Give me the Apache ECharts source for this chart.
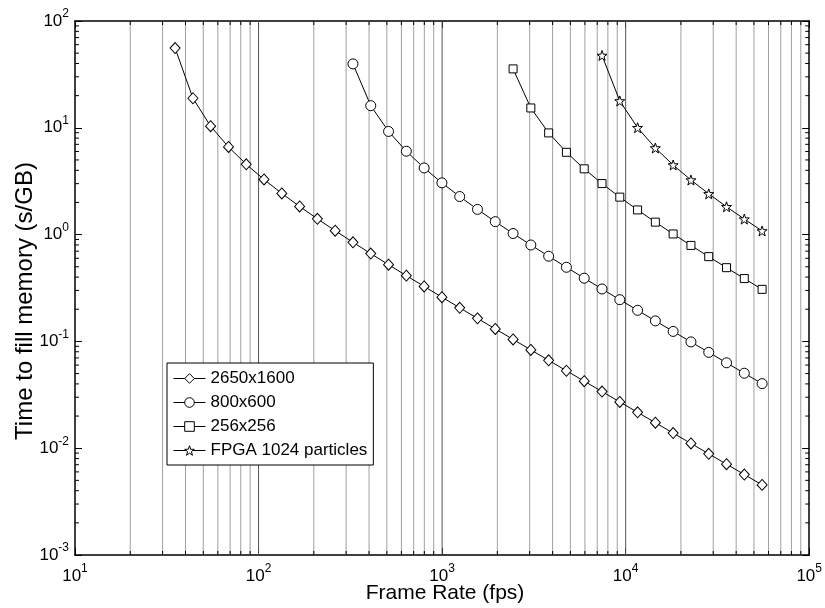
<!DOCTYPE html>
<html>
<head>
<meta charset="utf-8">
<script src="https://cdn.jsdelivr.net/npm/echarts@6/dist/echarts.min.js"></script>
<style>html,body{margin:0;padding:0;background:#fff}#c{width:825px;height:608px}</style>
</head>
<body>
<div id="c"></div>
<script>
// ---- data ----
const frameRate = [35.1, 43.9, 54.8, 68.6, 85.7, 107.1, 133.9, 167.4, 209.2, 261.5, 326.9, 408.6, 510.8, 638.5, 798.1, 997.6, 1247, 1559, 1948, 2436, 3044, 3806, 4757, 5946, 7433, 9291, 11614, 14517, 18146, 22683, 28353, 35442, 44302, 55378];
const time2650x1600 = [55.8, 18.91, 10.35, 6.614, 4.556, 3.281, 2.430, 1.835, 1.405, 1.087, 0.8471, 0.6640, 0.5227, 0.4129, 0.3270, 0.2596, 0.2063, 0.1643, 0.1309, 0.1044, 0.08328, 0.06649, 0.05311, 0.04243, 0.03391, 0.02711, 0.02167, 0.01733, 0.01386, 0.01108, 0.008862, 0.007088, 0.005670, 0.004535];
const time800x600 = [39.67, 16.11, 9.246, 6.033, 4.206, 3.051, 2.272, 1.722, 1.322, 1.024, 0.7994, 0.6272, 0.4942, 0.3907, 0.3096, 0.2458, 0.1955, 0.1556, 0.1240, 0.09892, 0.07895, 0.06304, 0.05035, 0.04023];
const time256x256 = [35.61, 15.34, 8.959, 5.895, 4.130, 3.005, 2.242, 1.702, 1.308, 1.014, 0.7920, 0.6217, 0.4900, 0.3875, 0.3071];
const timeFPGA = [47.53, 17.84, 10.02, 6.471, 4.486, 3.243, 2.408, 1.822, 1.397, 1.082];
const seriesNames = ['2650x1600', '800x600', '256x256', 'FPGA 1024 particles'];
const xDecades = [10, 100, 1000, 10000, 100000];
const yDecades = [0.001, 0.01, 0.1, 1, 10, 100];
const xAxisTitle = 'Frame Rate (fps)';
const yAxisTitle = 'Time to fill memory (s/GB)';

// ---- build ----
function pairs(ys) {
  const off = frameRate.length - ys.length;
  return ys.map((y, i) => [frameRate[off + i], y]);
}
const FONT = '"Liberation Sans", Arial, sans-serif';
const starPath = 'path://M0,-10 L2.35,-3.24 L9.51,-3.09 L3.8,1.24 L5.88,8.09 L0,4 L-5.88,8.09 L-3.8,1.24 L-9.51,-3.09 L-2.35,-3.24 Z';
const symbols = [['diamond', [10, 11]], ['circle', 10], ['rect', 8], [starPath, 10]];
const allY = [time2650x1600, time800x600, time256x256, timeFPGA];

const xMinor = [], yMinor = [];
for (let d = 0; d < xDecades.length - 1; d++) {
  for (let m = 2; m <= 9; m++) xMinor.push([xDecades[d] * m, 1, 0]);
  if (d > 0) xMinor.push([xDecades[d], 1, 1]);
}
for (let d = 0; d < yDecades.length - 1; d++) {
  for (let m = 2; m <= 9; m++) yMinor.push([10, yDecades[d] * m]);
}
const XMIN = xDecades[0], XMAX = xDecades[xDecades.length - 1];
const YMIN = yDecades[0], YMAX = yDecades[yDecades.length - 1];

function labelFmt(v) {
  const e = Math.round(Math.log10(v));
  return '{b|10}{s|' + e + '}';
}
const rich = {
  b: { fontSize: 17, fontFamily: FONT, color: '#000' },
  s: { fontSize: 12, fontFamily: FONT, color: '#000', padding: [0, 0, 14, 0] }
};

const series = allY.map((ys, i) => ({
  name: seriesNames[i],
  type: 'line',
  data: pairs(ys),
  symbol: symbols[i][0],
  symbolSize: symbols[i][1],
  showSymbol: true,
  lineStyle: { color: '#000', width: 1 },
  itemStyle: { color: '#fff', borderColor: '#000', borderWidth: 1 },
  z: 3,
  silent: true
}));

series.push({
  type: 'custom',
  silent: true,
  z: 1,
  data: xMinor,
  renderItem: function (params, api) {
    const x = api.value(0);
    const major = api.value(2) === 1;
    const pb = api.coord([x, YMIN]);
    const pt = api.coord([x, YMAX]);
    const children = [{
      type: 'line',
      shape: { x1: pb[0], y1: pb[1], x2: pt[0], y2: pt[1] },
      style: { stroke: major ? '#555' : '#a0a0a0', lineWidth: 1 }
    }];
    if (!major) {
      children.push({ type: 'line', shape: { x1: pb[0], y1: pb[1], x2: pb[0], y2: pb[1] - 4 }, style: { stroke: '#000', lineWidth: 1 } });
      children.push({ type: 'line', shape: { x1: pt[0], y1: pt[1], x2: pt[0], y2: pt[1] + 4 }, style: { stroke: '#000', lineWidth: 1 } });
    }
    return { type: 'group', children: children };
  }
});
series.push({
  type: 'custom',
  silent: true,
  z: 2,
  data: yMinor,
  renderItem: function (params, api) {
    const y = api.value(1);
    const pl = api.coord([XMIN, y]);
    const pr = api.coord([XMAX, y]);
    return {
      type: 'group',
      children: [
        { type: 'line', shape: { x1: pl[0], y1: pl[1], x2: pl[0] + 4, y2: pl[1] }, style: { stroke: '#000', lineWidth: 1 } },
        { type: 'line', shape: { x1: pr[0], y1: pr[1], x2: pr[0] - 4, y2: pr[1] }, style: { stroke: '#000', lineWidth: 1 } }
      ]
    };
  }
});

const axisLine = { show: true, onZero: false, lineStyle: { color: '#000', width: 1.5 } };
const axisTick = { show: true, inside: true, length: 7, lineStyle: { color: '#000', width: 1 } };

const option = {
  animation: false,
  backgroundColor: '#fff',
  grid: { left: 75, right: 9, top: 21, bottom: 53 },
  xAxis: [
    { type: 'log', logBase: 10, min: XMIN, max: XMAX, position: 'bottom', axisLine, axisTick,
      axisLabel: { formatter: labelFmt, rich, margin: 8, color: '#000' }, splitLine: { show: false } },
    { type: 'log', logBase: 10, min: XMIN, max: XMAX, position: 'top', axisLine, axisTick,
      axisLabel: { show: false }, splitLine: { show: false } }
  ],
  yAxis: [
    { type: 'log', logBase: 10, min: YMIN, max: YMAX, position: 'left', axisLine, axisTick,
      axisLabel: { formatter: labelFmt, rich, margin: 6, color: '#000' }, splitLine: { show: false } },
    { type: 'log', logBase: 10, min: YMIN, max: YMAX, position: 'right', axisLine, axisTick,
      axisLabel: { show: false }, splitLine: { show: false } }
  ],
  legend: {
    orient: 'vertical', left: 167, top: 363,
    padding: [7, 6, 6, 6], itemGap: 7, itemWidth: 32, itemHeight: 12,
    backgroundColor: '#fff', borderColor: '#000', borderWidth: 1, borderRadius: 0,
    itemStyle: { color: '#fff', borderColor: '#000', borderWidth: 1 },
    lineStyle: { color: '#000', width: 1 },
    textStyle: { fontFamily: FONT, fontSize: 17, color: '#000' },
    data: seriesNames
  },
  graphic: [
    { type: 'text', x: 445, y: 593, style: { text: xAxisTitle, font: '21px ' + FONT, fill: '#000', align: 'center', verticalAlign: 'middle' } },
    { type: 'text', x: 25, y: 301, rotation: Math.PI / 2, style: { text: yAxisTitle, font: '24px ' + FONT, fill: '#000', align: 'center', verticalAlign: 'middle' } }
  ],
  series
};
const chart = echarts.init(document.getElementById('c'), null, { renderer: 'canvas' });
chart.setOption(option);
</script>
</body>
</html>
